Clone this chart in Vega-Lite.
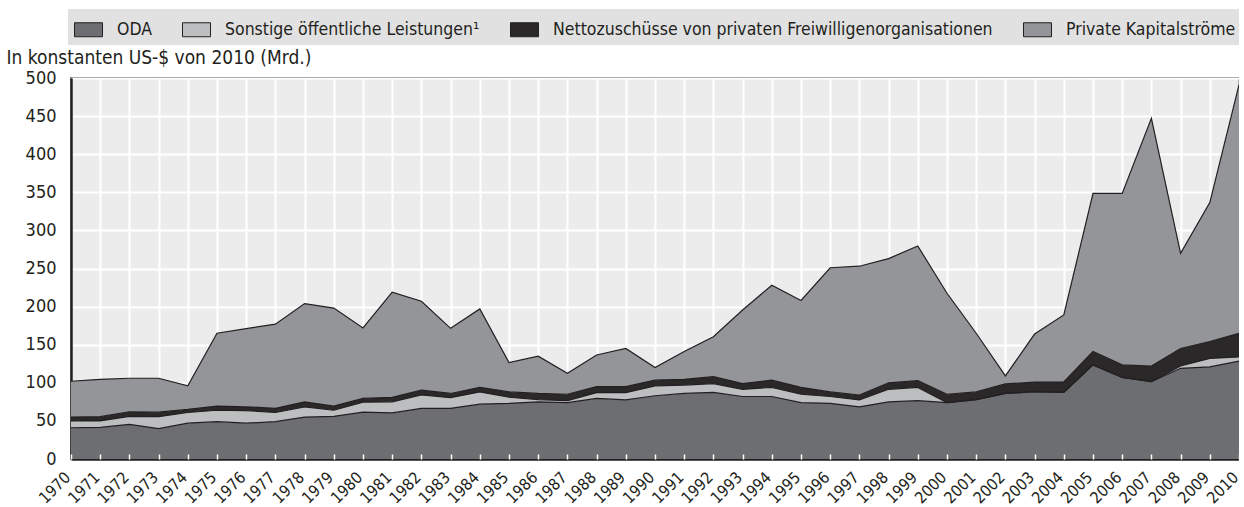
{
  "$schema": "https://vega.github.io/schema/vega-lite/v6.json",
  "width": 1168,
  "height": 381,
  "autosize": {"type": "none"},
  "padding": {"left": 71, "top": 78, "right": 0, "bottom": 48},
  "background": "white",
  "config": {
    "font": "DejaVu Sans Condensed, Roboto, sans-serif",
    "view": {"fill": "#ececed", "stroke": "#231f20", "strokeWidth": 1.5}
  },
  "data": {
    "values": [
      {"year": 1970, "ODA": 41, "OOF": 9, "PVO": 5, "PVT": 47},
      {"year": 1971, "ODA": 41.5, "OOF": 8.5, "PVO": 5.5, "PVT": 49},
      {"year": 1972, "ODA": 45.5, "OOF": 10.5, "PVO": 6, "PVT": 44},
      {"year": 1973, "ODA": 40, "OOF": 15.5, "PVO": 6, "PVT": 44.5},
      {"year": 1974, "ODA": 47, "OOF": 14, "PVO": 4, "PVT": 31},
      {"year": 1975, "ODA": 49, "OOF": 15, "PVO": 5.5, "PVT": 95.5},
      {"year": 1976, "ODA": 47, "OOF": 16.5, "PVO": 5, "PVT": 102.5},
      {"year": 1977, "ODA": 49, "OOF": 12, "PVO": 5.5, "PVT": 110.5},
      {"year": 1978, "ODA": 55, "OOF": 13.5, "PVO": 6.5, "PVT": 129},
      {"year": 1979, "ODA": 56, "OOF": 8, "PVO": 5.5, "PVT": 128.5},
      {"year": 1980, "ODA": 61.5, "OOF": 13, "PVO": 5, "PVT": 92.5},
      {"year": 1981, "ODA": 60.5, "OOF": 14.5, "PVO": 6, "PVT": 138},
      {"year": 1982, "ODA": 66.5, "OOF": 17.5, "PVO": 6.5, "PVT": 116.5},
      {"year": 1983, "ODA": 66.5, "OOF": 14, "PVO": 5.5, "PVT": 85.5},
      {"year": 1984, "ODA": 72, "OOF": 16, "PVO": 6, "PVT": 103},
      {"year": 1985, "ODA": 73, "OOF": 8, "PVO": 7, "PVT": 38.5},
      {"year": 1986, "ODA": 75, "OOF": 3, "PVO": 8, "PVT": 49},
      {"year": 1987, "ODA": 74, "OOF": 2.5, "PVO": 8.5, "PVT": 27.5},
      {"year": 1988, "ODA": 79.5, "OOF": 7.5, "PVO": 8, "PVT": 41.5},
      {"year": 1989, "ODA": 77.5, "OOF": 9.5, "PVO": 8, "PVT": 50},
      {"year": 1990, "ODA": 83, "OOF": 13, "PVO": 7.5, "PVT": 16.5},
      {"year": 1991, "ODA": 86, "OOF": 11, "PVO": 7.5, "PVT": 36.5},
      {"year": 1992, "ODA": 87.5, "OOF": 11.5, "PVO": 9, "PVT": 52.5},
      {"year": 1993, "ODA": 82, "OOF": 9.5, "PVO": 7.5, "PVT": 96.5},
      {"year": 1994, "ODA": 82, "OOF": 12, "PVO": 9.5, "PVT": 124.5},
      {"year": 1995, "ODA": 74, "OOF": 11, "PVO": 9, "PVT": 114},
      {"year": 1996, "ODA": 73, "OOF": 9, "PVO": 6, "PVT": 163},
      {"year": 1997, "ODA": 68.5, "OOF": 9, "PVO": 6.5, "PVT": 169},
      {"year": 1998, "ODA": 75, "OOF": 16.5, "PVO": 8.5, "PVT": 163},
      {"year": 1999, "ODA": 76.5, "OOF": 17.5, "PVO": 9, "PVT": 176.5},
      {"year": 2000, "ODA": 74, "OOF": 0, "PVO": 11, "PVT": 132.5},
      {"year": 2001, "ODA": 78, "OOF": 0, "PVO": 10, "PVT": 77},
      {"year": 2002, "ODA": 86, "OOF": 0, "PVO": 12.5, "PVT": 10.5},
      {"year": 2003, "ODA": 88.5, "OOF": 0, "PVO": 12.5, "PVT": 63},
      {"year": 2004, "ODA": 87.5, "OOF": 0, "PVO": 13.5, "PVT": 88},
      {"year": 2005, "ODA": 123.5, "OOF": 0, "PVO": 17.5, "PVT": 207.5},
      {"year": 2006, "ODA": 107, "OOF": 0, "PVO": 16.5, "PVT": 225},
      {"year": 2007, "ODA": 101.5, "OOF": 0, "PVO": 20.5, "PVT": 325},
      {"year": 2008, "ODA": 119, "OOF": 3, "PVO": 23, "PVT": 125},
      {"year": 2009, "ODA": 121, "OOF": 11, "PVO": 22, "PVT": 182.5},
      {"year": 2010, "ODA": 128.5, "OOF": 5.5, "PVO": 31, "PVT": 326}
    ]
  },
  "transform": [{"fold": ["ODA", "OOF", "PVO", "PVT"], "as": ["series", "value"]}],
  "encoding": {
    "y": {
      "field": "value", "type": "quantitative", "stack": "zero",
      "scale": {"domain": [0, 500], "nice": false},
      "axis": {
        "title": "In konstanten US-$ von 2010 (Mrd.)",
        "values": [0, 50, 100, 150, 200, 250, 300, 350, 400, 450, 500],
        "grid": true, "gridColor": "white", "gridWidth": 2,
        "ticks": false, "domainColor": "#231f20", "domainWidth": 2.5,
        "labelFontSize": 18, "labelPadding": 15, "labelColor": "#231f20",
        "titleAngle": 0, "titleAlign": "left", "titleBaseline": "alphabetic",
        "titleX": -65, "titleY": -15, "titleFontSize": 19, "titleFontWeight": "normal",
        "titleColor": "#231f20", "zindex": 0
      }
    },
    "order": {"field": "series", "sort": "ascending"}
  },
  "layer": [
    {
      "mark": {"type": "area", "strokeWidth": 0},
      "encoding": {
        "x": {
          "field": "year", "type": "ordinal",
          "scale": {"type": "point", "padding": 0},
          "axis": {
            "title": null, "grid": true, "gridColor": "white", "gridWidth": 2,
            "ticks": false, "domainColor": "#231f20", "domainWidth": 2.5,
            "labelAngle": -45, "labelAlign": "right", "labelBaseline": "alphabetic",
            "labelFontSize": 16, "labelPadding": 19, "labelColor": "#231f20", "zindex": 0
          }
        },
        "color": {
          "field": "series", "type": "nominal",
          "scale": {"domain": ["ODA", "OOF", "PVO", "PVT"], "range": ["#6d6e71", "#bcbec0", "#2b2829", "#939598"]},
          "legend": {
            "orient": "none", "legendX": -3, "legendY": -69, "direction": "horizontal",
            "title": null, "fillColor": "#e1e1e2", "padding": 6,
            "symbolType": "M-1,-0.5H1V0.5H-1Z", "symbolSize": 784,
            "symbolStrokeColor": "#231f20", "symbolStrokeWidth": 1, "symbolOpacity": 1,
            "labelFontSize": 17.5, "labelColor": "#231f20", "labelLimit": 700,
            "labelOffset": 14, "columnPadding": 28,
            "labelExpr": "datum.value == 'ODA' ? 'ODA' : datum.value == 'OOF' ? 'Sonstige öffentliche Leistungen¹' : datum.value == 'PVO' ? 'Nettozuschüsse von privaten Freiwilligenorganisationen' : 'Private Kapitalströme'"
          }
        }
      }
    },
    {
      "mark": {"type": "line", "color": "#231f20", "strokeWidth": 1.2},
      "encoding": {
        "x": {
          "field": "year", "type": "ordinal",
          "scale": {"type": "point", "padding": 0},
          "axis": {
            "orient": "bottom", "title": null, "labels": false, "domain": false, "grid": false,
            "ticks": true, "tickColor": "white", "tickSize": -5, "tickWidth": 1.5, "zindex": 1
          }
        },
        "detail": {"field": "series"}
      }
    }
  ],
  "resolve": {"axis": {"x": "independent"}}
}
